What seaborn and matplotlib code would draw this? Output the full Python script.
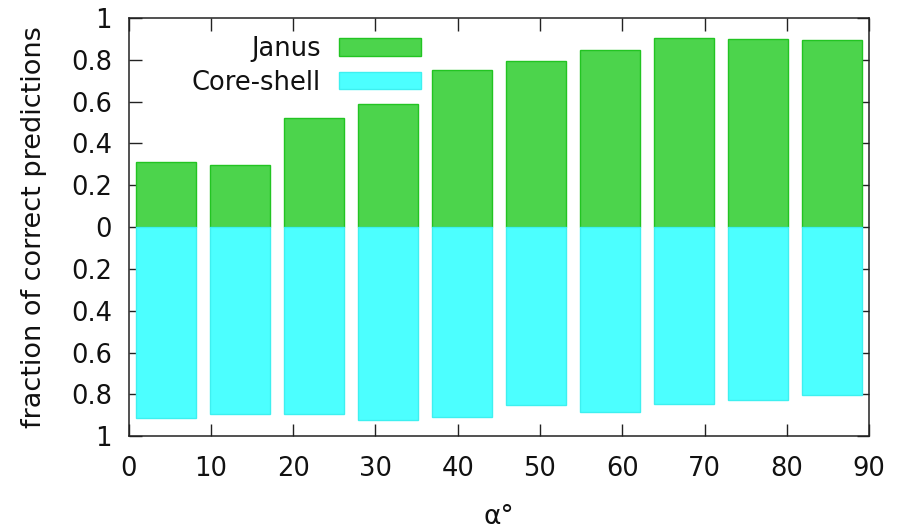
import numpy as np
import pandas as pd
import matplotlib
matplotlib.use('Agg')
import matplotlib.pyplot as plt
import seaborn as sns

# bar centres on the alpha axis and the two fractions
alpha = [4.5, 13.5, 22.5, 31.5, 40.5, 49.5, 58.5, 67.5, 76.5, 85.5]
janus = [0.312, 0.298, 0.523, 0.589, 0.751, 0.796, 0.847, 0.906, 0.901, 0.896]
core_shell = [0.912, 0.892, 0.895, 0.923, 0.907, 0.849, 0.885, 0.844, 0.829, 0.804]

yticks = [-1, -0.8, -0.6, -0.4, -0.2, 0, 0.2, 0.4, 0.6, 0.8, 1]
ytick_labels = ['1', '0.8', '0.6', '0.4', '0.2', '0', '0.2', '0.4', '0.6', '0.8', '1']
xticks = [0, 10, 20, 30, 40, 50, 60, 70, 80, 90]

df_janus = pd.DataFrame({'alpha': alpha, 'frac': janus})
df_core = pd.DataFrame({'alpha': alpha, 'frac': [-v for v in core_shell]})

sns.set_style('ticks')
plt.rcParams['font.family'] = ['DejaVu Sans']
plt.rcParams['text.color'] = '#111111'
fs = 18.5

fig = plt.figure(figsize=(8.97, 5.30), dpi=100)
ax = fig.add_axes([0.1435, 0.177, 0.8253, 0.789])

sns.barplot(data=df_janus, x='alpha', y='frac', native_scale=True, width=0.81,
            color='#4cd44c', saturation=1, edgecolor='#22c422', linewidth=1,
            label='Janus', ax=ax)
sns.barplot(data=df_core, x='alpha', y='frac', native_scale=True, width=0.81,
            color='#4cffff', saturation=1, edgecolor='#3ef0f0', linewidth=1,
            label='Core-shell', ax=ax)

ax.set_xlim(0, 90)
ax.set_ylim(-1, 1)
ax.set_xticks(xticks)
ax.set_xticklabels([str(t) for t in xticks])
ax.set_yticks(yticks)
ax.set_yticklabels(ytick_labels)
ax.tick_params(direction='in', length=9, width=1, top=True, right=True,
               labelsize=fs, colors='#222222', labelcolor='#111111', pad=12)
ax.tick_params(axis='x', pad=14)
for s in ax.spines.values():
    s.set_visible(True)
    s.set_linewidth(1.1)
    s.set_color('#222222')

ax.set_xlabel('α°', fontsize=19, labelpad=16, color='#111111')
ax.set_ylabel('fraction of correct predictions', fontsize=19.5, labelpad=17,
              color='#111111')

ax.legend(loc='upper right', bbox_to_anchor=(0.395, 0.957), frameon=False,
          markerfirst=False, handlelength=3.2, handleheight=0.66,
          handletextpad=0.7, labelspacing=0.3, borderpad=0, borderaxespad=0,
          fontsize=fs)

fig.savefig('out.png', dpi=100)
